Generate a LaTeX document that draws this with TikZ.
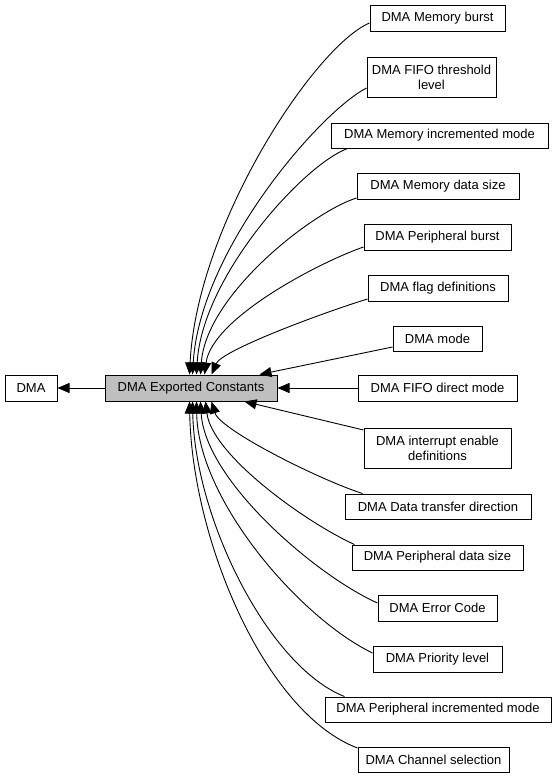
\documentclass[tikz,border=0pt]{standalone}
\usepackage{fontspec}
\setmainfont{Liberation Sans}
\usetikzlibrary{arrows.meta}
\begin{document}
\begin{tikzpicture}[x=1pt,y=-1pt,
  box/.style={draw=black, line width=1pt, fill=white, inner sep=0pt,
    minimum height=26pt, align=center, font=\fontsize{13}{15}\selectfont},
  tall/.style={minimum height=40pt},
  edge/.style={line width=0.9pt, -{Triangle[length=12pt,width=10pt]}},
]
\useasboundingbox (0,0) rectangle (556,779);
% nodes
\node[box, minimum width=52pt] (dma) at (31,388) {DMA};
\node[box, minimum width=172pt, fill={rgb,255:red,191;green,191;blue,191}] (main) at (191,388) {DMA Exported Constants};
\node[box, minimum width=135pt] (membur) at (437.5,18) {DMA Memory burst};
\node[box, tall, minimum width=129pt] (fifothr) at (431.5,77) {DMA FIFO threshold\\level};
\node[box, minimum width=217pt, minimum height=25pt] (meminc) at (439.5,135.5) {DMA Memory incremented mode};
\node[box, minimum width=162pt] (memsize) at (438,186) {DMA Memory data size};
\node[box, minimum width=147pt] (perbur) at (437.5,237) {DMA Peripheral burst};
\node[box, minimum width=140pt] (flag) at (438,288) {DMA flag definitions};
\node[box, minimum width=89pt, minimum height=25pt] (mode) at (437.5,338.5) {DMA mode};
\node[box, minimum width=159pt] (fifodir) at (437.5,388) {DMA FIFO direct mode};
\node[box, tall, minimum width=147pt] (irq) at (437.5,448) {DMA interrupt enable\\definitions};
\node[box, minimum width=186pt, minimum height=25pt] (dir) at (438,506.5) {DMA Data transfer direction};
\node[box, minimum width=171pt, minimum height=25pt] (persize) at (437.5,557.5) {DMA Peripheral data size};
\node[box, minimum width=119pt] (err) at (437.5,608) {DMA Error Code};
\node[box, minimum width=129pt] (prio) at (437.5,659) {DMA Priority level};
\node[box, minimum width=226pt, minimum height=25pt] (perinc) at (438,709.5) {DMA Peripheral incremented mode};
\node[box, minimum width=151pt, minimum height=25pt] (chan) at (433.5,759.5) {DMA Channel selection};
% edges
\draw[edge] (main.west) -- (dma.east);
\draw[edge] ([yshift=-5pt]membur.west) .. controls (315,46) and (197,224) .. ([xshift=85pt]main.north west);
\draw[edge] ([yshift=-11pt]fifothr.west) .. controls (320,112) and (200,250) .. ([xshift=88pt]main.north west);
\draw[edge] ([xshift=17pt]meminc.south west) .. controls (303,165) and (202,277) .. ([xshift=92pt]main.north west);
\draw[edge] ([yshift=-12pt]memsize.west) .. controls (312,212) and (206,295) .. ([xshift=96pt]main.north west);
\draw[edge] ([yshift=-10pt]perbur.west) .. controls (320,262) and (212,318) .. ([xshift=100pt]main.north west);
\draw[edge] ([yshift=-11pt]flag.west) .. controls (325,312) and (222,350) .. ([xshift=107pt]main.north west);
\draw[edge] ([yshift=-8.5pt]mode.west) -- ([xshift=155pt]main.north west);
\draw[edge] (fifodir.west) -- (main.east);
\draw[edge] ([yshift=18pt]irq.west) -- ([xshift=140pt]main.south west);
\draw[edge] ([xshift=18pt]dir.north west) .. controls (320,480) and (220,430) .. ([xshift=107pt]main.south west);
\draw[edge] ([xshift=3pt]persize.north west) .. controls (305,522) and (212,455) .. ([xshift=101pt]main.south west);
\draw[edge] ([yshift=5pt]err.west) .. controls (315,575) and (205,480) .. ([xshift=96pt]main.south west);
\draw[edge] ([yshift=6pt]prio.west) .. controls (300,618) and (198,500) .. ([xshift=92pt]main.south west);
\draw[edge] ([xshift=20pt]perinc.north west) .. controls (269,667) and (195,520) .. ([xshift=88pt]main.south west);
\draw[edge] ([yshift=11.5pt]chan.west) .. controls (265,713) and (192,540) .. ([xshift=85pt]main.south west);
\end{tikzpicture}
\end{document}
